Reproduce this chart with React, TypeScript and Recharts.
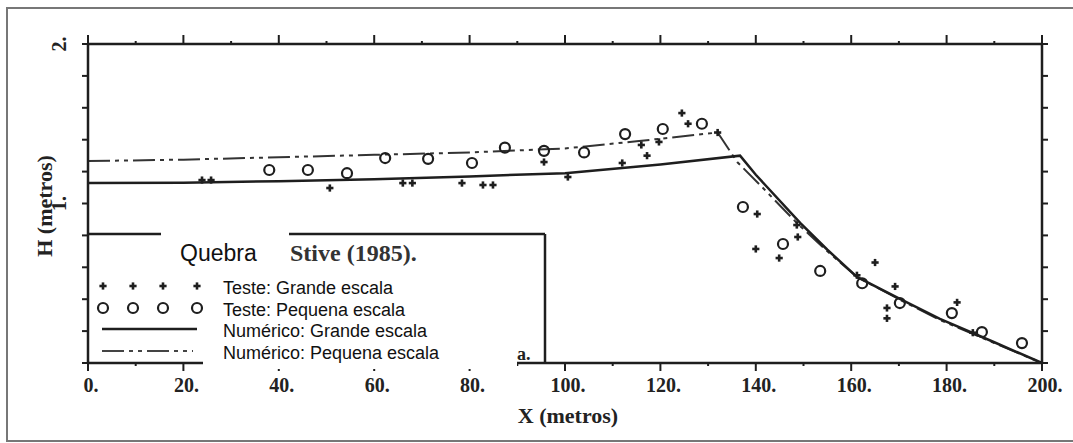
import { ComposedChart, Line, Scatter, XAxis, YAxis } from 'recharts'

// ── data (metros) ────────────────────────────────────────────────────────────
// Teste: Grande escala (+)
const grandeX = [23.9, 25.8, 50.7, 66, 68, 78.4, 82.8, 84.9, 95.6, 100.6, 112, 116, 117.2, 119.7, 124.5, 125.8, 132, 140.3, 140, 144.9, 148.6, 148.8, 161.2, 165, 169.2, 167.5, 167.5, 182.2, 185.5]
const grandeH = [1.147, 1.147, 1.097, 1.128, 1.128, 1.128, 1.116, 1.116, 1.26, 1.166, 1.254, 1.367, 1.3, 1.386, 1.567, 1.5, 1.445, 0.934, 0.715, 0.658, 0.865, 0.79, 0.55, 0.63, 0.48, 0.345, 0.28, 0.38, 0.19]

// Teste: Pequena escala (o)
const pequenaX = [38, 46.1, 54.3, 62.3, 71.3, 80.5, 87.4, 95.6, 104, 112.6, 120.5, 128.7, 137.3, 145.7, 153.5, 162.3, 170.2, 181.1, 187.4, 195.8]
const pequenaH = [1.21, 1.21, 1.19, 1.285, 1.28, 1.254, 1.35, 1.33, 1.32, 1.435, 1.467, 1.5, 0.978, 0.746, 0.577, 0.5, 0.376, 0.313, 0.194, 0.125]

// Numérico: Grande escala (solid)
const numGrandeX = [0, 20, 40, 60, 80, 100, 120, 136.7, 140, 149.3, 155, 161.2, 170, 178.6, 190, 200]
const numGrandeH = [1.128, 1.13, 1.14, 1.152, 1.17, 1.19, 1.245, 1.3, 1.18, 0.878, 0.71, 0.54, 0.405, 0.276, 0.13, 0]

// Numérico: Pequena escala (dash-dot)
const numPequenaX = [0, 20, 40, 60, 80, 100, 115, 132, 136.1, 140.9, 148.6, 155, 161.2, 170, 178.6, 190, 200]
const numPequenaH = [1.266, 1.275, 1.29, 1.305, 1.32, 1.345, 1.39, 1.445, 1.26, 1.116, 0.878, 0.7, 0.54, 0.4, 0.27, 0.125, 0]

const xTicks = [0, 10, 20, 30, 40, 50, 60, 70, 80, 90, 100, 110, 120, 130, 140, 150, 160, 170, 180, 190, 200]
const yTicks = [0, 0.2, 0.4, 0.6, 0.8, 1, 1.2, 1.4, 1.6, 1.8, 2]
const yLabelled = [1, 2]

const legendLabels = [
  'Teste: Grande escala',
  'Teste: Pequena escala',
  'Numérico: Grande escala',
  'Numérico: Pequena escala',
]

const zip = (xs: number[], ys: number[]) => xs.map((x, i) => ({ x, y: ys[i] }))

const grandeData = zip(grandeX, grandeH)
const pequenaData = zip(pequenaX, pequenaH)
const numGrandeData = zip(numGrandeX, numGrandeH)
const numPequenaData = zip(numPequenaX, numPequenaH)

const INK = '#1e1e1e'
const SERIF = '"Liberation Serif", "Times New Roman", serif'
const SANS = '"Liberation Sans", Arial, sans-serif'
const DASHDOT = '22 5 4 5 4 5'

// ── markers ──────────────────────────────────────────────────────────────────
function PlusMark({ cx, cy }: { cx?: number; cy?: number }) {
  if (cx == null || cy == null) return null
  return (
    <g stroke={INK} strokeWidth={2.6}>
      <line x1={cx - 3.6} y1={cy} x2={cx + 3.6} y2={cy} />
      <line x1={cx} y1={cy - 3.6} x2={cx} y2={cy + 3.6} />
    </g>
  )
}

function CircleMark({ cx, cy }: { cx?: number; cy?: number }) {
  if (cx == null || cy == null) return null
  return <circle cx={cx} cy={cy} r={5} fill="none" stroke={INK} strokeWidth={2.2} />
}

// ── ticks ────────────────────────────────────────────────────────────────────
function BottomTick({ x, y, payload }: any) {
  const major = payload.value % 20 === 0
  return (
    <g>
      <line x1={x} y1={y} x2={x} y2={y + (major ? 8 : 3)} stroke={INK} strokeWidth={2} />
      {major && (
        <text x={x + 3} y={y + 29} textAnchor="middle" fontFamily={SERIF} fontWeight={700} fontSize={20} fill="#222">
          {`${payload.value}.`}
        </text>
      )}
    </g>
  )
}

function TopTick({ x, y, payload }: any) {
  const major = payload.value % 20 === 0
  return <line x1={x} y1={y} x2={x} y2={y - (major ? 9 : 3)} stroke={INK} strokeWidth={2} />
}

function LeftTick({ x, y, payload }: any) {
  const lab = yLabelled.includes(payload.value)
  return (
    <g>
      <line x1={x - 6} y1={y} x2={x} y2={y} stroke={INK} strokeWidth={2} />
      {lab && (
        <text
          x={x - 22}
          y={y}
          transform={`rotate(-90 ${x - 22} ${y})`}
          textAnchor="middle"
          fontFamily={SERIF}
          fontWeight={700}
          fontSize={20}
          fill="#222"
        >
          {`${payload.value}.`}
        </text>
      )}
    </g>
  )
}

function RightTick({ x, y }: any) {
  return <line x1={x} y1={y} x2={x + 6} y2={y} stroke={INK} strokeWidth={2} />
}

// ── inset legend (over the plot) ─────────────────────────────────────────────
function Inset() {
  const rowsY = [286, 308, 329, 351]
  const markX = [103, 133, 163, 197]
  return (
    <svg width={1073} height={443} style={{ position: 'absolute', left: 0, top: 0, pointerEvents: 'none' }}>
      <rect x={7} y={8} width={1090} height={433} fill="none" stroke="#777" strokeWidth={2} />

      <line x1={88} y1={234} x2={545} y2={234} stroke={INK} strokeWidth={2.5} />
      <line x1={545} y1={234} x2={545} y2={363} stroke={INK} strokeWidth={2.5} />

      <rect x={161} y={226} width={128} height={44} fill="#fff" />
      <text x={180} y={261} fontFamily={SANS} fontSize={23} fill="#111">Quebra</text>
      <text x={290} y={261} fontFamily={SERIF} fontWeight={700} fontSize={24} fill="#333">Stive (1985).</text>

      {markX.map((mx) => <PlusMark key={`p${mx}`} cx={mx} cy={rowsY[0]} />)}
      {markX.map((mx) => <CircleMark key={`c${mx}`} cx={mx} cy={rowsY[1]} />)}
      <line x1={102} y1={rowsY[2]} x2={197} y2={rowsY[2]} stroke={INK} strokeWidth={2.5} />
      <line x1={102} y1={rowsY[3]} x2={193} y2={rowsY[3]} stroke="#444" strokeWidth={2} strokeDasharray={DASHDOT} />

      <text x={517} y={360} fontFamily={SERIF} fontWeight={700} fontSize={18} fill="#222">a.</text>

      <rect x={203} y={270} width={314} height={99} fill="#fff" />
      {legendLabels.map((t, i) => (
        <text key={t} x={223} y={rowsY[i] + 8} fontFamily={SANS} fontSize={18} fill="#111">{t}</text>
      ))}

      <text x={568} y={423} textAnchor="middle" fontFamily={SERIF} fontWeight={700} fontSize={22} fill="#222">X (metros)</text>
      <text
        x={44}
        y={206}
        transform="rotate(-90 44 206)"
        textAnchor="middle"
        dominantBaseline="central"
        fontFamily={SERIF}
        fontWeight={700}
        fontSize={22}
        fill="#222"
      >
        H (metros)
      </text>
    </svg>
  )
}

export default function App() {
  return (
    <div style={{ position: 'absolute', left: 0, top: 0, width: 1073, height: 443, background: '#fff' }}>
      <ComposedChart width={1073} height={443} margin={{ top: 24, right: 11, bottom: 20, left: 28 }}>
        <XAxis
          xAxisId="bottom"
          type="number"
          dataKey="x"
          domain={[0, 200]}
          ticks={xTicks}
          interval={0}
          height={60}
          tickSize={0}
          tickMargin={0}
          tickLine={false}
          axisLine={{ stroke: INK, strokeWidth: 2.5 }}
          tick={BottomTick}
        />
        <XAxis
          xAxisId="top"
          orientation="top"
          type="number"
          dataKey="x"
          domain={[0, 200]}
          ticks={xTicks}
          interval={0}
          height={20}
          tickSize={0}
          tickMargin={0}
          tickLine={false}
          axisLine={{ stroke: INK, strokeWidth: 2.5 }}
          tick={TopTick}
        />
        <YAxis
          yAxisId="left"
          type="number"
          dataKey="y"
          domain={[0, 2]}
          ticks={yTicks}
          interval={0}
          width={60}
          tickSize={0}
          tickMargin={0}
          tickLine={false}
          axisLine={{ stroke: INK, strokeWidth: 2.5 }}
          tick={LeftTick}
        />
        <YAxis
          yAxisId="right"
          orientation="right"
          type="number"
          dataKey="y"
          domain={[0, 2]}
          ticks={yTicks}
          interval={0}
          width={20}
          tickSize={0}
          tickMargin={0}
          tickLine={false}
          axisLine={{ stroke: INK, strokeWidth: 2.5 }}
          tick={RightTick}
        />
        <Line
          xAxisId="bottom"
          yAxisId="left"
          data={numPequenaData}
          dataKey="y"
          type="linear"
          stroke="#333"
          strokeWidth={2}
          strokeDasharray={DASHDOT}
          dot={false}
          isAnimationActive={false}
        />
        <Line
          xAxisId="bottom"
          yAxisId="left"
          data={numGrandeData}
          dataKey="y"
          type="linear"
          stroke={INK}
          strokeWidth={2.5}
          dot={false}
          isAnimationActive={false}
        />
        <Scatter
          xAxisId="bottom"
          yAxisId="left"
          data={pequenaData}
          dataKey="y"
          shape={CircleMark}
          isAnimationActive={false}
        />
        {/* same scales as bottom/left; attaching here gives the top/right axes data */}
        <Scatter
          xAxisId="top"
          yAxisId="right"
          data={grandeData}
          dataKey="y"
          shape={PlusMark}
          isAnimationActive={false}
        />
      </ComposedChart>
      <Inset />
    </div>
  )
}
